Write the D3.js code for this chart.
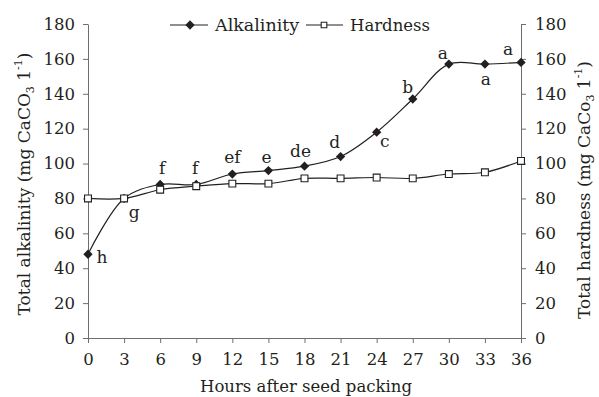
<!DOCTYPE html>
<html>
<head>
<meta charset="utf-8">
<script src="https://cdn.jsdelivr.net/npm/d3@7"></script>
<style>
  body { margin: 0; background: #fff; }
  svg text { font-family: "DejaVu Serif", serif; fill: #231f20; }
</style>
</head>
<body>
<script>
const hours = [0, 3, 6, 9, 12, 15, 18, 21, 24, 27, 30, 33, 36];
const alkalinity = [48, 80, 88, 88, 94, 96, 98.5, 104, 118, 137, 157, 157, 158];
const hardness = [80, 80, 85, 87, 88.5, 88.5, 91.5, 91.5, 92, 91.5, 94, 95, 101.5];
const letters = ["h", "g", "f", "f", "ef", "e", "de", "d", "c", "b", "a", "a", "a"];
const yTicks = [0, 20, 40, 60, 80, 100, 120, 140, 160, 180];

// where each letter sits relative to its point (px)
const labelOffsets = [
  [14, 9], [10, 20], [2, -10], [-1, -10], [0, -11], [-2, -8], [-4, -9],
  [-6, -9], [8, 15], [-5, -6], [-6, -5], [1, 21], [-13, -7]
];

const width = 599;
const height = 397;
const axisColour = "#6d6e71";

const svg = d3.select("body").append("svg")
  .attr("width", width)
  .attr("height", height);

const x = d3.scaleLinear().domain([0, 36]).range([88, 521]);
const y = d3.scaleLinear().domain([0, 180]).range([338, 24]);

const styleAxis = (g) => {
  g.attr("font-family", "DejaVu Serif, serif").attr("font-size", 16.5);
  g.selectAll(".domain").attr("stroke", axisColour);
  g.selectAll(".tick line").attr("stroke", axisColour);
  g.selectAll(".tick text").attr("fill", "#231f20");
};

svg.append("g")
  .attr("transform", `translate(0,${y(0)})`)
  .call(d3.axisBottom(x).tickValues(hours).tickSize(5).tickSizeOuter(0).tickPadding(10))
  .call(styleAxis);

svg.append("g")
  .attr("transform", `translate(${x(0)},0)`)
  .call(d3.axisLeft(y).tickValues(yTicks).tickSize(5).tickSizeOuter(0).tickPadding(8))
  .call(styleAxis);

svg.append("g")
  .attr("transform", `translate(${x(36)},0)`)
  .call(d3.axisRight(y).tickValues(yTicks).tickSize(5).tickSizeOuter(0).tickPadding(9))
  .call(styleAxis);

const line = (vals) => d3.line()
  .x((d, i) => x(hours[i]))
  .y((d) => y(d))
  .curve(d3.curveCatmullRom.alpha(0.5))(vals);

svg.append("path")
  .attr("d", line(hardness))
  .attr("fill", "none")
  .attr("stroke", "#231f20")
  .attr("stroke-width", 1.2);

svg.append("path")
  .attr("d", line(alkalinity))
  .attr("fill", "none")
  .attr("stroke", "#231f20")
  .attr("stroke-width", 1.2);

const diamond = d3.symbol().type(d3.symbolDiamond2).size(55);
const square = d3.symbol().type(d3.symbolSquare2).size(60);

svg.append("g").selectAll("path")
  .data(alkalinity)
  .join("path")
  .attr("transform", (d, i) => `translate(${x(hours[i])},${y(d)})`)
  .attr("d", diamond)
  .attr("fill", "#231f20");

svg.append("g").selectAll("path")
  .data(hardness)
  .join("path")
  .attr("transform", (d, i) => `translate(${x(hours[i])},${y(d)})`)
  .attr("d", square)
  .attr("fill", "#fff")
  .attr("stroke", "#231f20")
  .attr("stroke-width", 1.1);

svg.append("g").selectAll("text")
  .data(letters)
  .join("text")
  .attr("x", (d, i) => x(hours[i]) + labelOffsets[i][0])
  .attr("y", (d, i) => y(alkalinity[i]) + labelOffsets[i][1])
  .attr("text-anchor", "middle")
  .attr("font-size", 17)
  .text((d) => d);

// legend
const legend = svg.append("g");
legend.append("line").attr("x1", 170).attr("x2", 208).attr("y1", 25).attr("y2", 25)
  .attr("stroke", "#231f20").attr("stroke-width", 1.2);
legend.append("path").attr("transform", "translate(190,25)").attr("d", diamond).attr("fill", "#231f20");
legend.append("text").attr("x", 215).attr("y", 31).attr("font-size", 17.5).text("Alkalinity");
legend.append("line").attr("x1", 306).attr("x2", 343).attr("y1", 25).attr("y2", 25)
  .attr("stroke", "#231f20").attr("stroke-width", 1.2);
legend.append("path").attr("transform", "translate(324,25)").attr("d", d3.symbol().type(d3.symbolSquare2).size(40))
  .attr("fill", "#fff").attr("stroke", "#231f20").attr("stroke-width", 1.1);
legend.append("text").attr("x", 350).attr("y", 31).attr("font-size", 16.5).text("Hardness");

// axis titles
svg.append("text")
  .attr("x", 306).attr("y", 392)
  .attr("text-anchor", "middle")
  .attr("font-size", 16.5)
  .text("Hours after seed packing");

const yTitle = (xPos, yPos, main) => {
  const t = svg.append("text")
    .attr("transform", `translate(${xPos},${yPos}) rotate(-90)`)
    .attr("text-anchor", "middle")
    .attr("font-size", 17);
  t.append("tspan").text(main);
  t.append("tspan").attr("font-size", 11).attr("dy", 4).text("3");
  t.append("tspan").attr("dy", -4).text(" 1");
  t.append("tspan").attr("font-size", 11).attr("dy", -8).text("-1");
  t.append("tspan").attr("dy", 8).text(")");
};

yTitle(30, 184, "Total alkalinity (mg CaCO");
yTitle(590, 190, "Total hardness (mg CaCo");
</script>
</body>
</html>
